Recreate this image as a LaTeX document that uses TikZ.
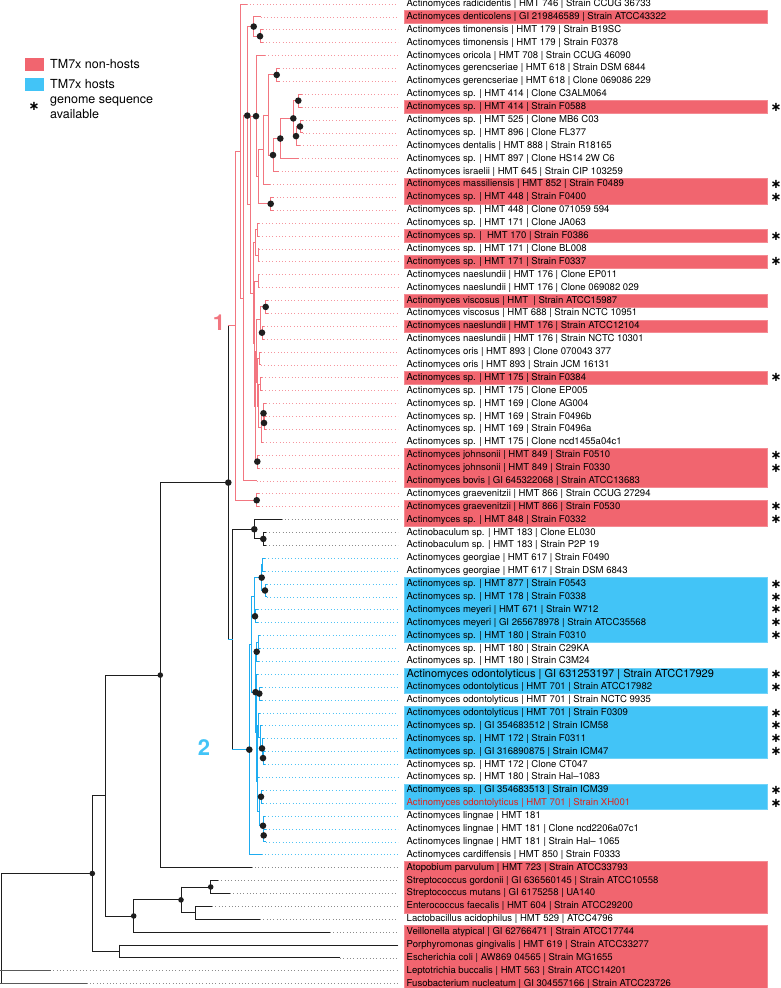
\documentclass[tikz,border=0pt]{standalone}
\usepackage{fontspec}
\setmainfont{TeX Gyre Heros}
\newfontfamily\symf{DejaVu Sans}
\usetikzlibrary{calc}
\definecolor{hred}{RGB}{241,101,111}
\definecolor{hblue}{RGB}{66,196,247}
\definecolor{bred}{RGB}{242,118,128}
\definecolor{bblue}{RGB}{30,172,240}
\definecolor{lred}{RGB}{245,150,158}
\definecolor{lblue}{RGB}{80,195,245}
\definecolor{lgray}{RGB}{140,140,140}
\definecolor{xred}{RGB}{226,35,26}
\definecolor{dk}{RGB}{30,30,30}
\newcommand{\lf}[4]{%
  \pgfmathsetmacro{\yy}{4+12.89*#1}%
  \coordinate (t#1) at (#2,\yy);%
  \coordinate (e#1) at (398,\yy);%
  \node[lab] (n#1) at (405,\yy) {#4};%
  \draw[lead,#3] (t#1) -- (e#1);%
}
\newcommand{\hb}[3]{%
  \pgfmathsetmacro{\ya}{4+12.89*#2-6.45}%
  \pgfmathsetmacro{\yb}{4+12.89*#3+6.45}%
  \path[fill=#1,draw=#1!75!white,line width=0.5pt] (404,\ya) rectangle (767,\yb);%
}
\newcommand{\st}[1]{%
  \pgfmathsetmacro{\yy}{4+12.89*#1}%
  \node[starmark] (s#1) at (776,\yy) {∗};%
}
\newcommand{\nd}[7]{%
  \path let \p1=(#3),\p2=(#4) in coordinate (#1) at (#2pt,{(\y1+\y2)/2});%
  \draw[br,#5] (#1 |- #3) -- (#1 |- #4);%
  \draw[br,#6] (#1 |- #3) -- (#3);%
  \draw[br,#7] (#1 |- #4) -- (#4);%
}
\newcommand{\ndr}[4]{\nd{#1}{#2}{#3}{#4}{bred}{bred}{bred}}
\newcommand{\ndb}[4]{\nd{#1}{#2}{#3}{#4}{bblue}{bblue}{bblue}}
\newcommand{\ndk}[4]{\nd{#1}{#2}{#3}{#4}{dk}{dk}{dk}}
\newcommand{\dt}[1]{\fill[dk] (#1) circle (3.3pt);}
\newcommand{\ds}[1]{\fill[dk] (#1) circle (2.8pt);}
\begin{document}
\begin{tikzpicture}[x=1pt,y=-1pt,
  lab/.style={anchor=west,inner sep=1.5pt,font=\fontsize{9.55}{10}\selectfont},
  lead/.style={line width=0.7pt,dash pattern=on 0.7pt off 2.6pt},
  br/.style={line width=0.9pt,line cap=rect},
  starmark/.style={inner sep=0pt,font=\symf\bfseries\fontsize{13}{13}\selectfont},
  leg/.style={anchor=west,inner sep=0pt,font=\fontsize{12.5}{15}\selectfont,align=left},
  clab/.style={inner sep=0pt,font=\bfseries\fontsize{22}{22}\selectfont}]
\useasboundingbox (0,0) rectangle (780,988);
% highlight boxes
\hb{hred}{1}{1}\hb{hred}{8}{8}\hb{hred}{14}{15}\hb{hred}{18}{18}\hb{hred}{20}{20}
\hb{hred}{23}{23}\hb{hred}{25}{25}\hb{hred}{29}{29}\hb{hred}{35}{37}\hb{hred}{39}{40}
\hb{hred}{67}{70}\hb{hred}{72}{76}
\hb{hblue}{45}{49}\hb{hblue}{52}{53}\hb{hblue}{55}{58}\hb{hblue}{61}{62}
% leaves
\lf{0}{246.7}{lred}{Actinomyces radicidentis | HMT 746 | Strain CCUG 36733}
\lf{1}{260.7}{lred}{Actinomyces denticolens | GI 219846589 | Strain ATCC43322}
\lf{2}{262.7}{lred}{Actinomyces timonensis | HMT 179 | Strain B19SC}
\lf{3}{262.7}{lred}{Actinomyces timonensis | HMT 179 | Strain F0378}
\lf{4}{265}{lred}{Actinomyces oricola | HMT 708 | Strain CCUG 46090}
\lf{5}{279.3}{lred}{Actinomyces gerencseriae | HMT 618 | Strain DSM 6844}
\lf{6}{279.3}{lred}{Actinomyces gerencseriae | HMT 618 | Clone 069086 229}
\lf{7}{301.7}{lred}{Actinomyces sp. | HMT 414 | Clone C3ALM064}
\lf{8}{301.7}{lred}{Actinomyces sp. | HMT 414 | Strain F0588}
\lf{9}{302.7}{lred}{Actinomyces sp. | HMT 525 | Clone MB6 C03}
\lf{10}{302.7}{lred}{Actinomyces sp. | HMT 896 | Clone FL377}
\lf{11}{300}{lred}{Actinomyces dentalis | HMT 888 | Strain R18165}
\lf{12}{298.3}{lred}{Actinomyces sp. | HMT 897 | Clone HS14 2W C6}
\lf{13}{278.3}{lred}{Actinomyces israelii | HMT 645 | Strain CIP 103259}
\lf{14}{270}{lred}{Actinomyces massiliensis | HMT 852 | Strain F0489}
\lf{15}{273.3}{lred}{Actinomyces sp. | HMT 448 | Strain F0400}
\lf{16}{273.3}{lred}{Actinomyces sp. | HMT 448 | Clone 071059 594}
\lf{17}{259}{lred}{Actinomyces sp. | HMT 171 | Clone JA063}
\lf{18}{259}{lred}{Actinomyces sp. |\ \ HMT 170 | Strain F0386}
\lf{19}{259}{lred}{Actinomyces sp. | HMT 171 | Clone BL008}
\lf{20}{259}{lred}{Actinomyces sp. | HMT 171 | Strain F0337}
\lf{21}{259}{lred}{Actinomyces naeslundii | HMT 176 | Clone EP011}
\lf{22}{259}{lred}{Actinomyces naeslundii | HMT 176 | Clone 069082 029}
\lf{23}{268}{lred}{Actinomyces viscosus | HMT\ \ | Strain ATCC15987}
\lf{24}{268}{lred}{Actinomyces viscosus | HMT 688 | Strain NCTC 10951}
\lf{25}{264}{lred}{Actinomyces naeslundii | HMT 176 | Strain ATCC12104}
\lf{26}{264}{lred}{Actinomyces naeslundii | HMT 176 | Strain NCTC 10301}
\lf{27}{261}{lred}{Actinomyces oris | HMT 893 | Clone 070043 377}
\lf{28}{261}{lred}{Actinomyces oris | HMT 893 | Strain JCM 16131}
\lf{29}{262}{lred}{Actinomyces sp. | HMT 175 | Strain F0384}
\lf{30}{262}{lred}{Actinomyces sp. | HMT 175 | Clone EP005}
\lf{31}{266}{lred}{Actinomyces sp. | HMT 169 | Clone AG004}
\lf{32}{266}{lred}{Actinomyces sp. | HMT 169 | Strain F0496b}
\lf{33}{266}{lred}{Actinomyces sp. | HMT 169 | Strain F0496a}
\lf{34}{263}{lred}{Actinomyces sp. | HMT 175 | Clone ncd1455a04c1}
\lf{35}{259}{lred}{Actinomyces johnsonii | HMT 849 | Strain F0510}
\lf{36}{259}{lred}{Actinomyces johnsonii | HMT 849 | Strain F0330}
\lf{37}{256.7}{lred}{Actinomyces bovis | GI 645322068 | Strain ATCC13683}
\lf{38}{259}{lred}{Actinomyces graevenitzii | HMT 866 | Strain CCUG 27294}
\lf{39}{259}{lred}{Actinomyces graevenitzii | HMT 866 | Strain F0530}
\lf{40}{281.7}{lgray}{Actinomyces sp. | HMT 848 | Strain F0332}
\lf{41}{266}{lgray}{Actinobaculum sp. | HMT 183 | Clone EL030}
\lf{42}{266}{lgray}{Actinobaculum sp. | HMT 183 | Strain P2P 19}
\lf{43}{265}{lblue}{Actinomyces georgiae | HMT 617 | Strain F0490}
\lf{44}{265}{lblue}{Actinomyces georgiae | HMT 617 | Strain DSM 6843}
\lf{45}{267}{lblue}{Actinomyces sp. | HMT 877 | Strain F0543}
\lf{46}{267}{lblue}{Actinomyces sp. | HMT 178 | Strain F0338}
\lf{47}{258}{lblue}{Actinomyces meyeri | HMT 671 | Strain W712}
\lf{48}{258}{lblue}{Actinomyces meyeri | GI 265678978 | Strain ATCC35568}
\lf{49}{260}{lblue}{Actinomyces sp. | HMT 180 | Strain F0310}
\lf{50}{260}{lblue}{Actinomyces sp. | HMT 180 | Strain C29KA}
\lf{51}{259}{lblue}{Actinomyces sp. | HMT 180 | Strain C3M24}
\lf{52}{258}{lblue}{\fontsize{11}{12}\selectfont Actinomyces odontolyticus | GI 631253197 | Strain ATCC17929}
\lf{53}{262}{lblue}{Actinomyces odontolyticus | HMT 701 | Strain ATCC17982}
\lf{54}{262}{lblue}{Actinomyces odontolyticus | HMT 701 | Strain NCTC 9935}
\lf{55}{260}{lblue}{Actinomyces odontolyticus | HMT 701 | Strain F0309}
\lf{56}{262}{lblue}{Actinomyces sp. | GI 354683512 | Strain ICM58}
\lf{57}{264}{lblue}{Actinomyces sp. | HMT 172 | Strain F0311}
\lf{58}{265}{lblue}{Actinomyces sp. | GI 316890875 | Strain ICM47}
\lf{59}{265}{lblue}{Actinomyces sp. | HMT 172 | Clone CT047}
\lf{60}{259}{lblue}{Actinomyces sp. | HMT 180 | Strain Hal\textendash1083}
\lf{61}{263}{lblue}{Actinomyces sp. | GI 354683513 | Strain ICM39}
\lf{62}{263}{lblue}{\color{xred}Actinomyces odontolyticus | HMT 701 | Strain XH001}
\lf{63}{265}{lblue}{Actinomyces lingnae | HMT 181}
\lf{64}{266}{lblue}{Actinomyces lingnae | HMT 181 | Clone ncd2206a07c1}
\lf{65}{266}{lblue}{Actinomyces lingnae | HMT 181 | Strain Hal\textendash\ 1065}
\lf{66}{261.7}{lblue}{Actinomyces cardiffensis | HMT 850 | Strain F0333}
\lf{67}{251.7}{lgray}{Atopobium parvulum | HMT 723 | Strain ATCC33793}
\lf{68}{218}{lgray}{Streptococcus gordonii | GI 636560145 | Strain ATCC10558}
\lf{69}{230}{lgray}{Streptococcus mutans | GI 6175258 | UA140}
\lf{70}{212}{lgray}{Enterococcus faecalis | HMT 604 | Strain ATCC29200}
\lf{71}{260}{lgray}{Lactobacillus acidophilus | HMT 529 | ATCC4796}
\lf{72}{330}{lgray}{Veillonella atypical | GI 62766471 | Strain ATCC17744}
\lf{73}{398}{lgray}{Porphyromonas gingivalis | HMT 619 | Strain ATCC33277}
\lf{74}{340}{lgray}{Escherichia coli | AW869 04565 | Strain MG1655}
\lf{75}{50}{lgray}{Leptotrichia buccalis | HMT 563 | Strain ATCC14201}
\lf{76}{86.7}{lgray}{Fusobacterium nucleatum | GI 304557166 | Strain ATCC23726}
% stars
\foreach \k in {8,14,15,18,20,29,35,36,39,40,45,46,47,48,49,52,53,55,56,57,58,61,62}{\st{\k}}
% clade 1
\ndr{B}{260}{t2}{t3}
\ndr{A}{253.7}{t1}{B}
\ndr{N56}{276.7}{t5}{t6}
\ndr{N78}{298.3}{t7}{t8}
\ndr{C}{300}{t9}{t10}
\ndr{D}{296}{C}{t11}
\ndr{E}{293.3}{N78}{D}
\ndr{F}{280.3}{E}{t12}
\ndr{G}{273}{F}{t13}
\ndr{H}{268.3}{N56}{G}
\ndr{I}{263.3}{H}{t14}
\ndr{L}{270.7}{t15}{t16}
\ndr{K}{258.7}{I}{L}
\ndr{J}{256}{t4}{K}
\ndr{S1}{257}{t17}{t18}
\ndr{S2}{258}{t19}{t20}
\ndr{S3}{255}{S1}{S2}
\ndr{S4}{258}{t21}{t22}
\ndr{V}{265.7}{t23}{t24}
\ndr{Nn}{262}{t25}{t26}
\ndr{S5}{260}{V}{Nn}
\ndr{S6}{259}{t27}{t28}
\ndr{S7}{260}{t29}{t30}
\ndr{P32}{264}{t32}{t33}
\ndr{P31}{263.5}{t31}{P32}
\ndr{S8}{261}{P31}{t34}
\ndr{S9}{258}{S7}{S8}
\ndr{S10}{257}{S6}{S9}
\ndr{S11}{256}{S5}{S10}
\ndr{Jo}{257.3}{t35}{t36}
\ndr{S15}{255.5}{S11}{Jo}
\ndr{S14}{254.5}{S4}{S15}
\ndr{Y}{253}{S3}{S14}
\ndr{X}{250.3}{J}{Y}
\ndr{P3}{247.3}{A}{X}
\ndr{P2}{243.3}{P3}{t37}
\ndr{P1}{240}{t0}{P2}
\ndr{G3839}{256.7}{t38}{t39}
\ndr{C1}{235.7}{P1}{G3839}
% clade 2
\ndb{G4344}{262.7}{t43}{t44}
\ndb{Q1}{265}{t45}{t46}
\ndb{Q2}{261.7}{G4344}{Q1}
\ndb{M}{255}{t47}{t48}
\ndb{Q3}{254.3}{Q2}{M}
\ndb{P4950}{258.5}{t49}{t50}
\ndb{P49}{256.7}{P4950}{t51}
\ndb{P5354}{259.3}{t53}{t54}
\ndb{P52}{256}{t52}{P5354}
\ndb{P5859}{263}{t58}{t59}
\ndb{P57}{262}{t57}{P5859}
\ndb{P56}{260}{t56}{P57}
\ndb{P55}{258}{t55}{P56}
\ndb{P60}{257.5}{P55}{t60}
\ndb{P6162}{261}{t61}{t62}
\ndb{P6465}{263.7}{t64}{t65}
\ndb{P63}{263}{t63}{P6465}
\ndb{R1}{259}{P6162}{P63}
\ndb{R2}{257}{P60}{R1}
\ndb{R3}{256.5}{P52}{R2}
\ndb{RR}{255.5}{P49}{R3}
\ndb{T}{251.7}{Q3}{RR}
\ndb{R2r}{249.3}{T}{t66}
% middle
\ndk{G41}{263.3}{t41}{t42}
\ndk{Ab}{254.3}{t40}{G41}
\nd{N2b}{232.7}{Ab}{R2r}{dk}{dk}{bblue}
\nd{N12}{228.3}{C1}{N2b}{dk}{bred}{bblue}
\ndk{N160}{160.3}{N12}{t67}
\ndk{N210}{210.7}{t68}{t69}
\ndk{N195}{195}{t70}{t71}
\ndk{N181}{181}{N210}{N195}
\ndk{N133}{133.7}{N181}{t72}
\ndk{N105}{105}{N160}{N133}
\ndk{N119}{119.3}{t73}{t74}
\ndk{N92}{92.3}{N105}{N119}
\path let \p1=(t76) in coordinate (Rb) at (1pt,\y1);
\draw[br,dk] (N92) -| (Rb);
\draw[br,black!65,line width=1.2pt] (t75 -| Rb) -- (t75);
\draw[br,black!65,line width=1.2pt] (Rb) -- (t76);
% dots
\foreach \n in {A,B,N56,P3,J,N78,E,C,D,F,G,L,V,Nn,P31,P32,Jo,G3839,Ab,G41,N12,
  Q1,Q2,M,P49,RR,P5354,R2r,P57,P5859,P6162,P63,P6465}{\dt{\n}}
\foreach \n in {N160,N133,N181,N210,N92}{\ds{\n}}
% clade labels
\node[clab,text=bred] (c1) at (219,323) {1};
\node[clab,text=hblue] (c2) at (204,748) {2};
% legend
\fill[hred] (25,58) rectangle (44,71);
\node[leg] (lg1) at (50,64.5) {TM7x non-hosts};
\fill[hblue] (25,78) rectangle (44,91);
\node[leg] (lg2) at (50,84.5) {TM7x hosts};
\node[starmark] (lg3s) at (34,106) {∗};
\node[leg,anchor=north west] (lg3) at (50,97) {genome sequence\\available};
\end{tikzpicture}
\end{document}
